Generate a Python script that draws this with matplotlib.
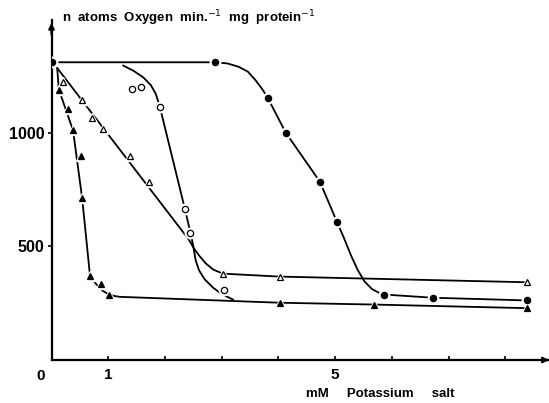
"""
Oxygen uptake vs potassium salt concentration, redrawn from a scanned figure.
"""

import matplotlib
matplotlib.use("Agg")
import matplotlib.pyplot as plt

# marker positions (x: mM potassium salt, y: n atoms O / min / mg protein)
fc_x = [0.0, 2.88, 3.81, 4.13, 4.73, 5.03, 5.87, 6.72, 8.39]
fc_y = [1310, 1310, 1154, 1000, 785, 609, 288, 274, 265]

oc_x = [1.42, 1.58, 1.91, 2.35, 2.45, 3.04]
oc_y = [1193, 1202, 1114, 666, 560, 310]

ot_x = [0.20, 0.54, 0.71, 0.91, 1.38, 1.72, 3.02, 4.02, 8.39]
ot_y = [1225, 1146, 1066, 1018, 899, 785, 380, 367, 345]

ft_x = [0.13, 0.29, 0.38, 0.52, 0.54, 0.68, 0.88, 1.01, 4.02, 5.68, 8.39]
ft_y = [1190, 1106, 1010, 899, 712, 368, 335, 288, 252, 244, 231]

# hand-drawn curves, vertices
fc_curve_x = [0.0, 2.88, 3.1, 3.3, 3.46, 3.6, 3.72, 3.81, 4.13, 4.73, 5.03,
              5.15, 5.28, 5.4, 5.52, 5.65, 5.78, 5.87, 6.72, 8.39]
fc_curve_y = [1310, 1310, 1305, 1290, 1269, 1230, 1190, 1154, 1000, 785, 609,
              540, 460, 395, 345, 312, 295, 288, 274, 262]

oc_curve_x = [1.26, 1.45, 1.62, 1.75, 1.84, 1.91, 2.35, 2.45, 2.5, 2.54, 2.6,
              2.7, 2.85, 3.0, 3.2]
oc_curve_y = [1296, 1272, 1243, 1210, 1170, 1114, 666, 560, 500, 440, 395,
              355, 318, 290, 266]

ot_curve_x = [0.1, 2.42, 2.5, 2.6, 2.72, 2.85, 3.02, 4.02, 8.39]
ot_curve_y = [1285, 530, 495, 460, 425, 398, 380, 367, 342]

ft_curve_x = [0.1, 0.13, 0.38, 0.54, 0.68, 0.75, 0.82, 0.9, 1.0, 1.1, 1.2,
              4.02, 5.68, 8.39]
ft_curve_y = [1285, 1190, 1010, 712, 368, 345, 325, 305, 290, 282, 278,
              252, 244, 228]

x_ticks = [1, 2, 3, 4, 5, 6, 7, 8]
x_labels = ["1", "", "", "", "5", "", "", ""]
y_ticks = [500, 1000]

plt.rcParams['font.family'] = ['Liberation Sans', 'DejaVu Sans']

fig = plt.figure(figsize=(5.49, 4.03), dpi=100)
ax = fig.add_axes([51.5 / 549, 43 / 403, 1 - 51.5 / 549, 340 / 403])
ax.set_xlim(0, 8.77)
ax.set_ylim(0, 1496)

lw = 1.3
for cx, cy in [(fc_curve_x, fc_curve_y), (oc_curve_x, oc_curve_y),
               (ot_curve_x, ot_curve_y), (ft_curve_x, ft_curve_y)]:
    ax.plot(cx, cy, color='black', lw=lw, solid_capstyle='round',
            solid_joinstyle='round', zorder=2)

# white halo under each marker, so the line breaks off near the points like the drawing
def points(x, y, marker, ms, filled):
    ax.plot(x, y, ls='none', marker=marker, ms=ms + 3, color='white', zorder=3)
    ax.plot(x, y, ls='none', marker=marker, ms=ms,
            markerfacecolor='black' if filled else 'white',
            markeredgecolor='black', markeredgewidth=0.9, zorder=4)

points(fc_x, fc_y, 'o', 4.5, True)
points(oc_x, oc_y, 'o', 4.5, False)
points(ot_x, ot_y, '^', 4, False)
points(ft_x, ft_y, '^', 4, True)

for s in ['top', 'right']:
    ax.spines[s].set_visible(False)
for s in ['left', 'bottom']:
    ax.spines[s].set_linewidth(1.6)

ax.set_xticks(x_ticks)
ax.set_xticklabels(x_labels, fontsize=11, fontweight='bold')
ax.set_yticks(y_ticks)
ax.set_yticklabels([str(v) for v in y_ticks], fontsize=11.5, fontweight='bold')
ax.tick_params(axis='x', direction='in', length=3, width=1.2, pad=6)
ax.tick_params(axis='y', direction='out', length=3, width=1.2, pad=2)

ax.text(-0.2, -40, "0", fontsize=11, fontweight='bold', ha='center', va='top')

# arrow heads on the axes
ax.annotate('', xy=(0, 1496), xytext=(0, 1420),
            arrowprops=dict(arrowstyle='-|>', color='black', lw=1.6, mutation_scale=8),
            annotation_clip=False)
ax.annotate('', xy=(8.77, 0), xytext=(8.7, 0),
            arrowprops=dict(arrowstyle='-|>', color='black', lw=1.6, mutation_scale=8),
            annotation_clip=False)

fig.text(62 / 549, 1 - 18 / 403,
         r"n  atoms  Oxygen  min.$^{-1}$  mg  protein$^{-1}$",
         fontsize=9.5, fontweight='bold', ha='left', va='center')
fig.text(306 / 549, 1 - 394 / 403, "mM     Potassium     salt",
         fontsize=9.5, fontweight='bold', ha='left', va='center')

fig.savefig("out.png", dpi=100)
